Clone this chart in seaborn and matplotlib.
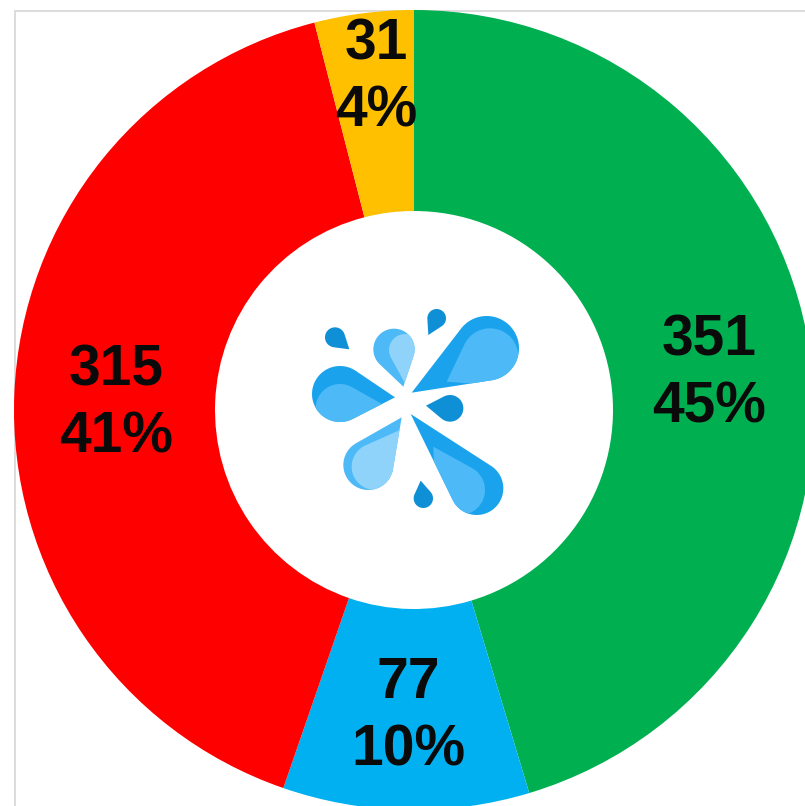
import numpy as np
import matplotlib
matplotlib.use('Agg')
from matplotlib import pyplot as plt
from matplotlib.lines import Line2D
from matplotlib.patches import Polygon
import seaborn as sns

counts = [351, 77, 315, 31]
percents = [45, 10, 41, 4]
slice_colors = ['#00B050', '#00B0F0', '#FF0000', '#FFC000']

DARK = '#1AA3EC'
MID = '#4DBAF7'
PALE = '#8FD3FA'
DEEP = '#0F8FD6'

sns.set_theme(style='white')
plt.rcParams['font.family'] = ['Liberation Sans', 'DejaVu Sans']

fig = plt.figure(figsize=(8.05, 8.06), dpi=100)
fig.patch.set_facecolor('white')

# szara ramka za wykresem
for xs, ys in [([14.5, 14.5], [0, 795.5]), ([14.5, 805], [795.5, 795.5])]:
    fig.add_artist(Line2D(np.array(xs) / 805, np.array(ys) / 806, color='#D9D9D9', lw=1.3, zorder=-1))

ax = fig.add_axes([0, 0, 1, 1])
ax.patch.set_alpha(0)

labels = iter(f'{c}\n{p}%' for c, p in zip(counts, percents))
wedges, _, autotexts = ax.pie(
    counts,
    colors=slice_colors,
    startangle=90,
    counterclock=False,
    center=(414, 396),
    radius=400,
    wedgeprops={'width': 201, 'linewidth': 0},
    autopct=lambda p: next(labels),
    pctdistance=0.745,
    textprops={'fontsize': 41, 'fontweight': 'bold', 'color': '#0A0A0A', 'linespacing': 1.31},
)
ax.set_xlim(0, 805)
ax.set_ylim(0, 806)
ax.axis('off')

# etykiety troche nizej, najmniejszy wycinek wyzej, przy krawedzi
for t, dy in zip(autotexts, [-7, -9, -6, 36]):
    x0, y0 = t.get_position()
    t.set_position((x0, y0 + dy))


# logo w srodku (kropla: czubek, srodek, promien - w pikselach obrazka)
logo = fig.add_axes([0, 0, 1, 1])
logo.set_xlim(0, 805)
logo.set_ylim(806, 0)
logo.axis('off')


def drop(tip, center, r, color, clip=None):
    tip = np.array(tip, float) / 3 + 290
    c = np.array(center, float) / 3 + 290
    r = r / 3
    d = tip - c
    dist = np.hypot(*d)
    base = np.arctan2(d[1], d[0])
    half = np.arccos(min(r / dist, 0.999))
    t = np.linspace(base + half, base + 2 * np.pi - half, 60)
    pts = np.column_stack([c[0] + r * np.cos(t), c[1] + r * np.sin(t)])
    patch = Polygon(np.vstack([tip, pts]), closed=True, facecolor=color, edgecolor='none')
    logo.add_patch(patch)
    if clip is not None:
        patch.set_clip_path(clip)
    return patch


p = drop((365, 308), (590, 175), 97, DARK)
drop((470, 275), (600, 200), 85, MID, clip=p)
p = drop((315, 322), (150, 312), 84, DARK)
drop((290, 350), (150, 355), 73, MID, clip=p)
p = drop((340, 290), (312, 178), 62, MID)
drop((345, 280), (345, 180), 48, PALE, clip=p)
p = drop((335, 382), (235, 525), 75, MID)
drop((330, 420), (255, 530), 70, PALE, clip=p)
p = drop((362, 372), (560, 595), 80, DARK)
drop((430, 470), (510, 600), 75, MID, clip=p)
drop((408, 347), (480, 355), 40, DEEP)
drop((178, 178), (135, 142), 30, DEEP)
drop((415, 135), (440, 85), 28, DEEP)
drop((392, 572), (400, 625), 29, DEEP)

plt.savefig('out.png', dpi=100)
